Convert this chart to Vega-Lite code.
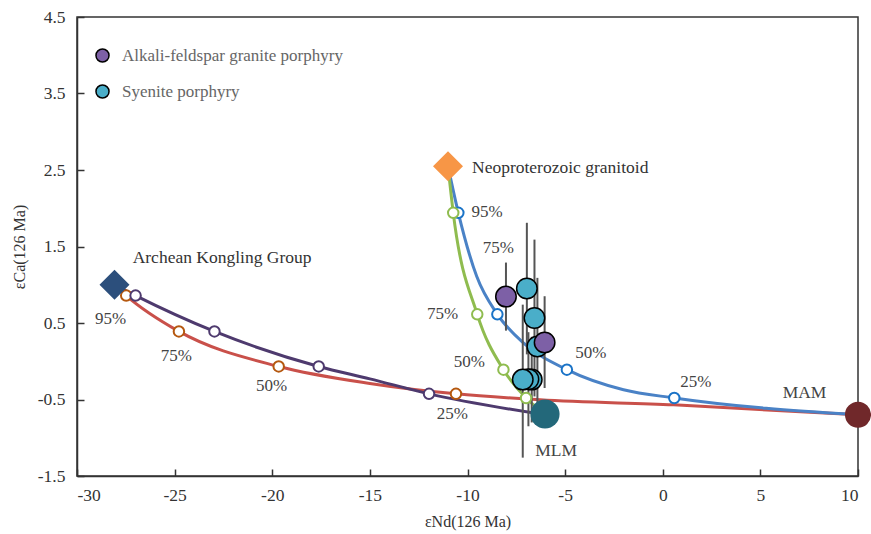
{
  "$schema": "https://vega.github.io/schema/vega-lite/v6.json",
  "width": 781,
  "height": 459,
  "autosize": {"type": "none"},
  "padding": {"left": 77, "top": 17, "right": 13, "bottom": 58},
  "background": "white",
  "config": {
    "view": {"stroke": "#333", "strokeWidth": 1.5},
    "font": "Liberation Serif",
    "style": {
      "guide-label": {"font": "Liberation Serif"},
      "guide-title": {"font": "Liberation Serif"}
    },
    "axis": {
      "grid": false,
      "domainColor": "#333",
      "domainWidth": 1.5,
      "tickColor": "#333",
      "tickWidth": 1.5,
      "tickSize": -7,
      "labelFont": "Liberation Serif",
      "labelFontSize": 17.5,
      "labelColor": "#333",
      "titleFont": "Liberation Serif",
      "titleFontSize": 16,
      "titleFontWeight": "normal",
      "titleColor": "#333"
    }
  },
  "datasets": {
    "curves": [
      {"curve": "AK-MAM", "x": -28.08, "y": 1.0},
      {"curve": "AK-MAM", "x": -27.48, "y": 0.858},
      {"curve": "AK-MAM", "x": -24.78, "y": 0.39},
      {"curve": "AK-MAM", "x": -19.67, "y": -0.068},
      {"curve": "AK-MAM", "x": -15.0, "y": -0.29},
      {"curve": "AK-MAM", "x": -10.59, "y": -0.426},
      {"curve": "AK-MAM", "x": -6.28, "y": -0.504},
      {"curve": "AK-MAM", "x": 0.55, "y": -0.57},
      {"curve": "AK-MAM", "x": 10.0, "y": -0.7},
      {"curve": "AK-MLM", "x": -28.08, "y": 1.0},
      {"curve": "AK-MLM", "x": -27.0, "y": 0.858},
      {"curve": "AK-MLM", "x": -22.96, "y": 0.39},
      {"curve": "AK-MLM", "x": -17.62, "y": -0.068},
      {"curve": "AK-MLM", "x": -15.0, "y": -0.23},
      {"curve": "AK-MLM", "x": -11.97, "y": -0.426},
      {"curve": "AK-MLM", "x": -6.03, "y": -0.7},
      {"curve": "NG-MAM", "x": -11.0, "y": 2.55},
      {"curve": "NG-MAM", "x": -10.47, "y": 1.94},
      {"curve": "NG-MAM", "x": -9.53, "y": 1.11},
      {"curve": "NG-MAM", "x": -8.47, "y": 0.613},
      {"curve": "NG-MAM", "x": -7.14, "y": 0.24},
      {"curve": "NG-MAM", "x": -4.91, "y": -0.11},
      {"curve": "NG-MAM", "x": -2.01, "y": -0.373},
      {"curve": "NG-MAM", "x": 0.59, "y": -0.48},
      {"curve": "NG-MAM", "x": 10.0, "y": -0.7},
      {"curve": "NG-MLM", "x": -11.0, "y": 2.55},
      {"curve": "NG-MLM", "x": -10.73, "y": 1.94},
      {"curve": "NG-MLM", "x": -9.5, "y": 0.613},
      {"curve": "NG-MLM", "x": -8.16, "y": -0.11},
      {"curve": "NG-MLM", "x": -7.0, "y": -0.48},
      {"curve": "NG-MLM", "x": -6.03, "y": -0.69}
    ],
    "markers": [
      {"set": "AK-MAM pts", "x": -27.48, "y": 0.858},
      {"set": "AK-MAM pts", "x": -24.78, "y": 0.39},
      {"set": "AK-MAM pts", "x": -19.67, "y": -0.068},
      {"set": "AK-MAM pts", "x": -10.59, "y": -0.426},
      {"set": "AK-MLM pts", "x": -27.0, "y": 0.858},
      {"set": "AK-MLM pts", "x": -22.96, "y": 0.39},
      {"set": "AK-MLM pts", "x": -17.62, "y": -0.068},
      {"set": "AK-MLM pts", "x": -11.97, "y": -0.426},
      {"set": "NG-MAM pts", "x": -10.47, "y": 1.94},
      {"set": "NG-MAM pts", "x": -8.47, "y": 0.613},
      {"set": "NG-MAM pts", "x": -4.91, "y": -0.11},
      {"set": "NG-MAM pts", "x": 0.59, "y": -0.48},
      {"set": "NG-MLM pts", "x": -10.73, "y": 1.94},
      {"set": "NG-MLM pts", "x": -9.5, "y": 0.613},
      {"set": "NG-MLM pts", "x": -8.16, "y": -0.11},
      {"set": "NG-MLM pts", "x": -7.0, "y": -0.48}
    ],
    "samples": [
      {"type": "Alkali-feldspar granite porphyry", "x": -8.03, "y": 0.845, "lo": 0.4, "hi": 1.29},
      {"type": "Syenite porphyry", "x": -6.96, "y": 0.95, "lo": 0.09, "hi": 1.81},
      {"type": "Syenite porphyry", "x": -6.57, "y": 0.566, "lo": -0.46, "hi": 1.59},
      {"type": "Syenite porphyry", "x": -6.42, "y": 0.194, "lo": -0.7, "hi": 1.09},
      {"type": "Alkali-feldspar granite porphyry", "x": -6.05, "y": 0.246, "lo": -0.35, "hi": 0.85},
      {"type": "Syenite porphyry", "x": -6.71, "y": -0.24, "lo": -0.8, "hi": 0.32},
      {"type": "Syenite porphyry", "x": -6.88, "y": -0.235, "lo": -0.85, "hi": 0.38},
      {"type": "Syenite porphyry", "x": -7.17, "y": -0.24, "lo": -1.26, "hi": 0.74}
    ],
    "ends": [
      {"name": "Archean Kongling Group", "x": -28.08, "y": 1.0},
      {"name": "Neoproterozoic granitoid", "x": -11.0, "y": 2.55},
      {"name": "MLM", "x": -6.03, "y": -0.69},
      {"name": "MAM", "x": 10.0, "y": -0.7}
    ],
    "pct": [
      {"t": "95%", "x": -9.0, "y": 1.95},
      {"t": "75%", "x": -8.42, "y": 1.483},
      {"t": "75%", "x": -11.28, "y": 0.618},
      {"t": "50%", "x": -9.91, "y": -0.016},
      {"t": "50%", "x": -3.68, "y": 0.107},
      {"t": "25%", "x": 1.69, "y": -0.265},
      {"t": "25%", "x": -10.78, "y": -0.688},
      {"t": "95%", "x": -28.28, "y": 0.553},
      {"t": "75%", "x": -24.91, "y": 0.063},
      {"t": "50%", "x": -20.04, "y": -0.32}
    ],
    "namesLeft": [
      {"t": "Archean Kongling Group", "x": -27.15, "y": 1.356},
      {"t": "Neoproterozoic granitoid", "x": -9.77, "y": 2.52}
    ],
    "namesCenter": [
      {"t": "MLM", "x": -5.46, "y": -1.17},
      {"t": "MAM", "x": 7.26, "y": -0.417}
    ]
  },
  "layer": [
    {
      "data": {"name": "curves"},
      "mark": {"type": "line", "interpolate": "monotone", "strokeWidth": 3},
      "encoding": {
        "x": {
          "field": "x", "type": "quantitative",
          "scale": {"domain": [-30, 10], "nice": false, "zero": false},
          "axis": {
            "title": "εNd(126 Ma)",
            "values": [-30, -25, -20, -15, -10, -5, 0, 5, 10],
            "labelExpr": "replace(datum.label, '−', '-')",
            "labelFont": "Liberation Serif",
            "titleFont": "Liberation Serif",
            "labelPadding": 17,
            "titlePadding": 10
          }
        },
        "y": {
          "field": "y", "type": "quantitative",
          "scale": {"domain": [-1.5, 4.5], "nice": false, "zero": false},
          "axis": {
            "title": "εCa(126 Ma)",
            "values": [-1.5, -0.5, 0.5, 1.5, 2.5, 3.5, 4.5],
            "format": ".1f",
            "labelExpr": "replace(datum.label, '−', '-')",
            "labelFont": "Liberation Serif",
            "titleFont": "Liberation Serif",
            "labelPadding": 19,
            "titlePadding": 10
          }
        },
        "stroke": {
          "field": "curve", "type": "nominal",
          "scale": {
            "domain": ["AK-MAM", "AK-MLM", "NG-MAM", "NG-MLM", "AK-MAM pts", "AK-MLM pts", "NG-MAM pts", "NG-MLM pts"],
            "range": ["#c9504a", "#4e3a6e", "#4a82c6", "#8fbc4f", "#b5580f", "#4e3a6e", "#1a73c7", "#8fbc4f"]
          },
          "legend": null
        }
      }
    },
    {
      "data": {"name": "samples"},
      "mark": {"type": "rule", "color": "#555", "strokeWidth": 2},
      "encoding": {
        "x": {"field": "x", "type": "quantitative"},
        "y": {"field": "lo", "type": "quantitative"},
        "y2": {"field": "hi"}
      }
    },
    {
      "data": {"name": "markers"},
      "mark": {"type": "point", "filled": true, "fill": "white", "strokeWidth": 2, "size": 110, "opacity": 1},
      "encoding": {
        "x": {"field": "x", "type": "quantitative"},
        "y": {"field": "y", "type": "quantitative"},
        "stroke": {"field": "set", "type": "nominal", "legend": null}
      }
    },
    {
      "data": {"name": "samples"},
      "mark": {"type": "point", "filled": true, "stroke": "#000", "strokeWidth": 1.5, "size": 420, "opacity": 1},
      "encoding": {
        "x": {"field": "x", "type": "quantitative"},
        "y": {"field": "y", "type": "quantitative"},
        "fill": {
          "field": "type", "type": "nominal",
          "scale": {"domain": ["Alkali-feldspar granite porphyry", "Syenite porphyry"], "range": ["#7d60a6", "#4aaec9"]},
          "legend": {
            "title": null,
            "orient": "none",
            "legendX": 17,
            "legendY": 30,
            "symbolType": "circle",
            "symbolSize": 170,
            "symbolStrokeColor": "#000",
            "symbolStrokeWidth": 1.5,
            "labelFont": "Liberation Serif",
            "labelFontSize": 17,
            "labelColor": "#666",
            "labelLimit": 0,
            "rowPadding": 15,
            "labelOffset": 11
          }
        }
      }
    },
    {
      "data": {"name": "ends"},
      "transform": [{"filter": "datum.name === 'Archean Kongling Group'"}],
      "mark": {"type": "point", "shape": "diamond", "filled": true, "color": "#2c4f7c", "size": 900, "opacity": 1},
      "encoding": {
        "x": {"field": "x", "type": "quantitative"},
        "y": {"field": "y", "type": "quantitative"}
      }
    },
    {
      "data": {"name": "ends"},
      "transform": [{"filter": "datum.name === 'Neoproterozoic granitoid'"}],
      "mark": {"type": "point", "shape": "diamond", "filled": true, "color": "#f79646", "size": 900, "opacity": 1},
      "encoding": {
        "x": {"field": "x", "type": "quantitative"},
        "y": {"field": "y", "type": "quantitative"}
      }
    },
    {
      "data": {"name": "ends"},
      "transform": [{"filter": "datum.name === 'MLM'"}],
      "mark": {"type": "point", "shape": "circle", "filled": true, "color": "#23687a", "size": 850, "opacity": 1},
      "encoding": {
        "x": {"field": "x", "type": "quantitative"},
        "y": {"field": "y", "type": "quantitative"}
      }
    },
    {
      "data": {"name": "ends"},
      "transform": [{"filter": "datum.name === 'MAM'"}],
      "mark": {"type": "point", "shape": "circle", "filled": true, "color": "#70282a", "size": 680, "opacity": 1},
      "encoding": {
        "x": {"field": "x", "type": "quantitative"},
        "y": {"field": "y", "type": "quantitative"}
      }
    },
    {
      "data": {"name": "pct"},
      "mark": {"type": "text", "font": "Liberation Serif", "fontSize": 17, "color": "#444", "align": "center", "baseline": "middle"},
      "encoding": {
        "x": {"field": "x", "type": "quantitative"},
        "y": {"field": "y", "type": "quantitative"},
        "text": {"field": "t"}
      }
    },
    {
      "data": {"name": "namesLeft"},
      "mark": {"type": "text", "font": "Liberation Serif", "fontSize": 17.5, "color": "#333", "align": "left", "baseline": "middle"},
      "encoding": {
        "x": {"field": "x", "type": "quantitative"},
        "y": {"field": "y", "type": "quantitative"},
        "text": {"field": "t"}
      }
    },
    {
      "data": {"name": "namesCenter"},
      "mark": {"type": "text", "font": "Liberation Serif", "fontSize": 17.5, "color": "#444", "align": "center", "baseline": "middle"},
      "encoding": {
        "x": {"field": "x", "type": "quantitative"},
        "y": {"field": "y", "type": "quantitative"},
        "text": {"field": "t"}
      }
    }
  ]
}
